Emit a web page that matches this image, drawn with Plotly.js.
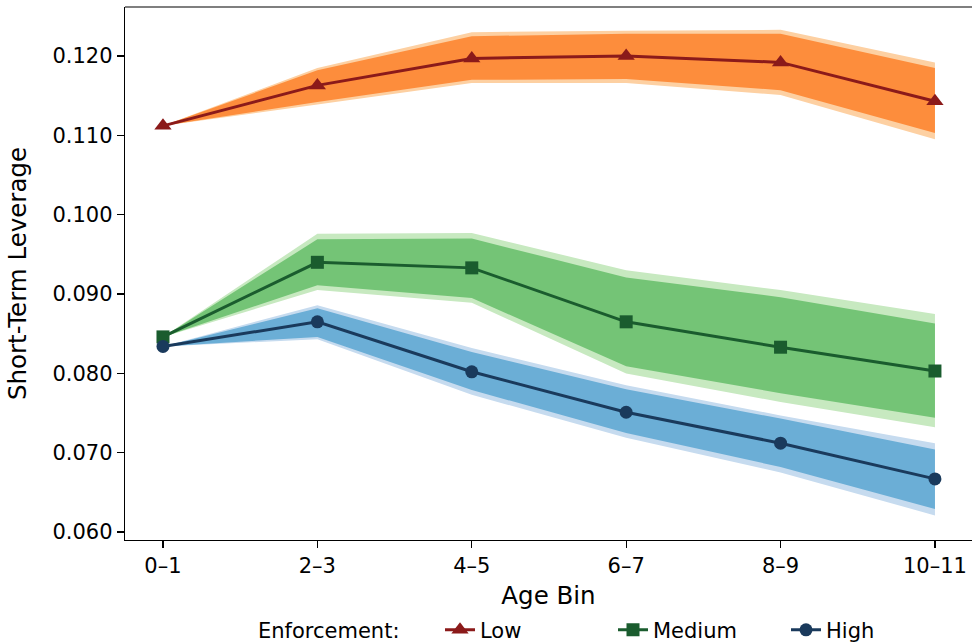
<!DOCTYPE html>
<html>
<head>
<meta charset="utf-8">
<script src="https://cdn.plot.ly/plotly-3.0.1.min.js"></script>
<style>html,body{margin:0;padding:0;background:#fff;}#chart{width:972px;height:643px;}</style>
</head>
<body>
<div id="chart"></div>
<script>
const categories = ["0–1", "2–3", "4–5", "6–7", "8–9", "10–11"];

const lowMean    = [0.1112, 0.1163, 0.1197, 0.1200, 0.1192, 0.1143];
const lowInnerHi = [0.1112, 0.1182, 0.1225, 0.1228, 0.1228, 0.1185];
const lowInnerLo = [0.1112, 0.1142, 0.1170, 0.1171, 0.1157, 0.1103];
const lowOuterHi = [0.1112, 0.1185, 0.1230, 0.1232, 0.1233, 0.1192];
const lowOuterLo = [0.1112, 0.1139, 0.1166, 0.1166, 0.1151, 0.1095];

const medMean    = [0.0846, 0.0940, 0.0933, 0.0865, 0.0833, 0.0803];
const medInnerHi = [0.0846, 0.0969, 0.0970, 0.0921, 0.0896, 0.0863];
const medInnerLo = [0.0846, 0.0911, 0.0895, 0.0809, 0.0775, 0.0744];
const medOuterHi = [0.0846, 0.0976, 0.0977, 0.0930, 0.0905, 0.0875];
const medOuterLo = [0.0846, 0.0905, 0.0889, 0.0800, 0.0764, 0.0732];

const highMean    = [0.0834, 0.0865, 0.0802, 0.0751, 0.0712, 0.0667];
const highInnerHi = [0.0834, 0.0882, 0.0827, 0.0780, 0.0743, 0.0704];
const highInnerLo = [0.0834, 0.0846, 0.0779, 0.0725, 0.0682, 0.0629];
const highOuterHi = [0.0834, 0.0886, 0.0832, 0.0785, 0.0747, 0.0712];
const highOuterLo = [0.0834, 0.0843, 0.0773, 0.0719, 0.0675, 0.0621];

const yTicks = [0.060, 0.070, 0.080, 0.090, 0.100, 0.110, 0.120];

function band(hi, lo, color) {
  return {
    x: categories.concat(categories.slice().reverse()),
    y: hi.concat(lo.slice().reverse()),
    type: 'scatter', mode: 'lines', fill: 'toself',
    fillcolor: color, line: {width: 0, color: color},
    hoverinfo: 'skip', showlegend: false
  };
}
function meanLine(y, name, color, symbol, size) {
  return {
    x: categories, y: y, name: name, type: 'scatter', mode: 'lines+markers',
    line: {color: color, width: 3},
    marker: {color: color, symbol: symbol, size: size}
  };
}

const traces = [
  band(lowOuterHi, lowOuterLo, '#fdd0a2'),
  band(lowInnerHi, lowInnerLo, '#fd8d3c'),
  meanLine(lowMean, 'Low', '#8b1a1a', 'triangle-up', 15),
  band(medOuterHi, medOuterLo, '#c7e9c0'),
  band(medInnerHi, medInnerLo, '#74c476'),
  meanLine(medMean, 'Medium', '#1a5c2e', 'square', 13),
  band(highOuterHi, highOuterLo, '#c6dbef'),
  band(highInnerHi, highInnerLo, '#6baed6'),
  meanLine(highMean, 'High', '#1a3a5c', 'circle', 13)
];

const font = {family: 'DejaVu Sans, sans-serif', color: '#000'};
const layout = {
  width: 972, height: 643,
  margin: {l: 125, r: 0, t: 7, b: 103},
  paper_bgcolor: '#fff', plot_bgcolor: '#fff',
  font: Object.assign({size: 21}, font),
  xaxis: {
    type: 'category', range: [-0.246, 5.24],
    showgrid: false, zeroline: false, automargin: false,
    showline: true, linecolor: '#000', linewidth: 1.2,
    ticks: 'outside', ticklen: 7, tickwidth: 1.2, tickcolor: '#000',
    tickfont: {size: 21},
    title: {text: 'Age Bin', font: {size: 24.5}, standoff: 14}
  },
  yaxis: {
    range: [0.0590, 0.12618], automargin: false,
    tickvals: yTicks, tickformat: '.3f',
    showgrid: false, zeroline: false,
    showline: true, linecolor: '#000', linewidth: 1.2,
    ticks: 'outside', ticklen: 7, tickwidth: 1.2, tickcolor: '#000',
    tickfont: {size: 21},
    title: {text: 'Short-Term Leverage', font: {size: 24.5}, standoff: 18}
  },
  shapes: [{type: 'line', xref: 'paper', yref: 'paper', x0: 0, x1: 1, y0: 1, y1: 1,
            line: {color: '#000', width: 1.2}}],
  annotations: [{
    text: 'Enforcement:', xref: 'paper', yref: 'paper',
    x: (256 - 125) / 847, y: (540 - 631) / 533,
    xanchor: 'left', yanchor: 'middle', showarrow: false,
    font: {size: 21, family: 'DejaVu Sans, sans-serif', color: '#000'}
  }],
  legend: {
    orientation: 'h', xref: 'container', yref: 'container',
    x: 440 / 972, xanchor: 'left', y: 0.02, yanchor: 'middle',
    font: {size: 21}, entrywidth: 128, entrywidthmode: 'pixels', traceorder: 'normal'
  },
  showlegend: true
};

Plotly.newPlot('chart', traces, layout, {displayModeBar: false, staticPlot: true});
</script>
</body>
</html>
